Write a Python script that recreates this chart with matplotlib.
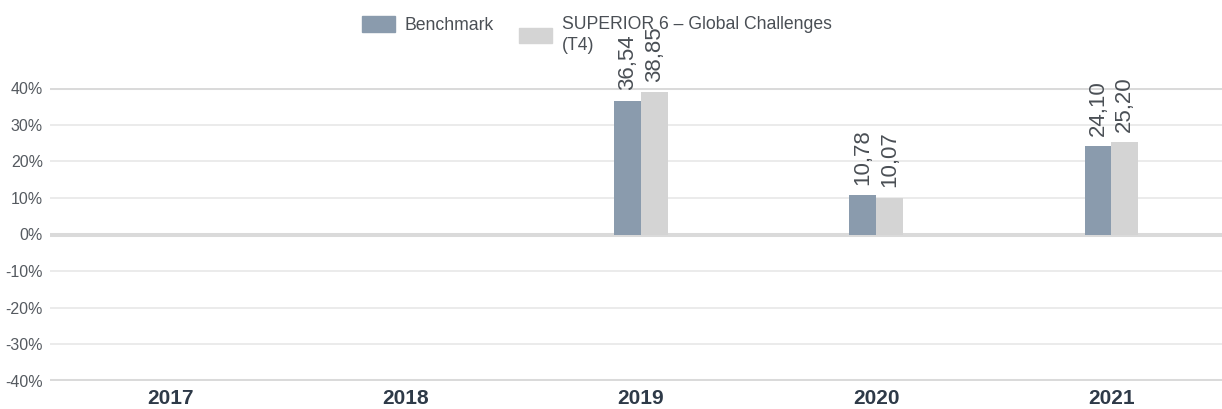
import matplotlib.pyplot as plt
import matplotlib.patches as mpatches
import numpy as np

plt.rcParams['font.family'] = ['Liberation Sans', 'DejaVu Sans']

years = ['2017', '2018', '2019', '2020', '2021']
benchmark = [None, None, 36.54, 10.78, 24.10]
superior = [None, None, 38.85, 10.07, 25.20]
labels_bench = ['', '', '36,54', '10,78', '24,10']
labels_sup = ['', '', '38,85', '10,07', '25,20']
yticks = [40, 30, 20, 10, 0, -10, -20, -30, -40]

c_bench = '#8a9bad'
c_sup = '#d4d4d4'
txt = '#4a4f55'

W, H = 1222, 409
fig = plt.figure(figsize=(W / 100, H / 100), dpi=100)
ax = fig.add_axes([50 / W, (409 - 381) / H, 1 - 50 / W, (381 - 88) / H])

x = np.arange(len(years))
bw = 0.114
for i in range(len(years)):
    if benchmark[i] is None:
        continue
    ax.bar(x[i] - bw / 2, benchmark[i], bw, color=c_bench, linewidth=0)
    ax.bar(x[i] + bw / 2, superior[i], bw, color=c_sup, linewidth=0)
    ax.annotate(labels_bench[i], (x[i] - bw / 2, benchmark[i]), xytext=(0, 7.5),
                textcoords='offset points', rotation=90, ha='center', va='bottom',
                fontsize=16, color=txt)
    ax.annotate(labels_sup[i], (x[i] + bw / 2, superior[i]), xytext=(0, 7.5),
                textcoords='offset points', rotation=90, ha='center', va='bottom',
                fontsize=16, color=txt)

# gridlines
for t in yticks:
    if t in (40, 0, -40):
        ax.axhline(t, color='#dadada', lw=2.9, zorder=0)
    else:
        ax.axhline(t, color='#e6e6e6', lw=1.1, zorder=0)

ax.set_xlim(-0.51, 4.47)
ax.set_ylim(-40, 40)
ax.set_yticks(yticks)
ax.set_yticklabels([f'{t}%' for t in yticks], fontsize=11.5, color='#555a60')
ax.set_xticks(x)
ax.set_xticklabels(years, fontsize=15, fontweight='bold', color='#2e3a48')
ax.tick_params(axis='both', length=0)
ax.tick_params(axis='y', pad=5)
ax.tick_params(axis='x', pad=6)
for s in ax.spines.values():
    s.set_visible(False)

# legend
fig.patches.append(mpatches.Rectangle((362 / W, 1 - 32 / H), 33 / W, 16 / H,
                                      transform=fig.transFigure, color=c_bench))
fig.text(404 / W, 1 - 30 / H, 'Benchmark', fontsize=12.7, color=txt, va='baseline')
fig.patches.append(mpatches.Rectangle((519 / W, 1 - 43 / H), 33 / W, 15 / H,
                                      transform=fig.transFigure, color=c_sup))
fig.text(562 / W, 1 - 29 / H, 'SUPERIOR 6 – Global Challenges', fontsize=12.7,
         color=txt, va='baseline')
fig.text(562 / W, 1 - 50 / H, '(T4)', fontsize=12.7, color=txt, va='baseline')

fig.savefig('out.png', dpi=100)
